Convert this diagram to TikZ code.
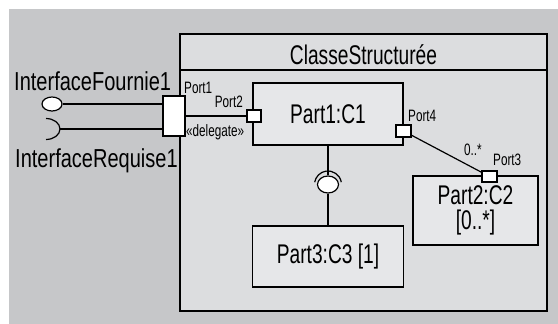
\documentclass[tikz,border=0pt]{standalone}
\usepackage{fontspec}
\setmainfont[FakeStretch=0.71]{Liberation Sans}
\newfontfamily\ifacefont[FakeStretch=0.77]{Liberation Sans}
\usepackage{tikz}
\usetikzlibrary{shapes.geometric}
\definecolor{bggray}{HTML}{C6C7C9}
\definecolor{boxbg}{HTML}{DCDDDF}
\definecolor{partbg}{HTML}{E6E7E9}
\tikzset{
  part/.style={draw=black,fill=partbg,line width=1.2pt,inner sep=2pt,
               font=\fontsize{27}{25}\selectfont,align=center},
  port/.style={draw=black,fill=white,line width=1.1pt,inner sep=0pt},
  ball/.style={draw=black,fill=white,ellipse,line width=1.2pt,inner sep=0pt},
  biglbl/.style={font=\fontsize{27}{29}\selectfont,inner sep=0pt},
  ifacelbl/.style={font=\ifacefont\fontsize{26}{28}\selectfont,inner sep=0pt},
  smalllbl/.style={font=\fontsize{16.5}{18}\selectfont,inner sep=0pt},
  wire/.style={line width=1.2pt},
}
\begin{document}
\begin{tikzpicture}[x=1pt,y=-1pt]
  \useasboundingbox (0,0) rectangle (558,324);
  \fill[white] (0,0) rectangle (558,324);
  \fill[bggray] (9,9) rectangle (558,324);
  % Structured class frame
  \node[draw=black,fill=boxbg,line width=1.3pt,minimum width=367pt,
        minimum height=277pt,inner sep=0pt](outer) at (363.5,172.5){};
  \draw[line width=1.2pt] (180,70) -- (547,70);
  \node[biglbl,anchor=base](title) at (363.5,64){ClasseStructurée};
  % Parts
  \node[part,minimum width=150pt,minimum height=62pt](part1) at (328,114){Part1:C1};
  \node[part,minimum width=125pt,minimum height=69pt](part2) at (475.5,210.5)
    {Part2:C2\\{}[0..*]};
  \node[part,minimum width=151pt,minimum height=61pt](part3) at (328,256.5){Part3:C3 [1]};
  % Ports
  \node[port,minimum width=22pt,minimum height=40pt](port1) at (174,116){};
  \node[port,minimum width=14pt,minimum height=12pt](port2) at (254,116){};
  \node[port,minimum width=15pt,minimum height=12pt](port4) at (403.5,131){};
  \node[port,minimum width=15pt,minimum height=11pt](port3) at (489.5,176.5){};
  \node[smalllbl,anchor=base west](lport1) at (184,93){Port1};
  \node[smalllbl,anchor=base east](lport2) at (243,107){Port2};
  \node[smalllbl,anchor=base west](ldeleg) at (186,136){«delegate»};
  \node[smalllbl,anchor=base west](lport4) at (408,121){Port4};
  \node[smalllbl,anchor=base west](lmult) at (464,155){0..*};
  \node[smalllbl,anchor=base west](lport3) at (493,165){Port3};
  % Left interfaces
  \node[ball,minimum width=20pt,minimum height=14pt](ball1) at (52,104){};
  \coordinate (sock1) at (46,129);
  \draw[wire] ([yshift=10.5pt]sock1) arc[start angle=90,end angle=-90,
    x radius=14pt,y radius=10.5pt];
  \draw[wire] (ball1.east) -- (ball1.east -| port1.west);
  \draw[wire] ([xshift=14pt]sock1) -- (sock1 -| port1.west);
  \node[ifacelbl,anchor=base west](lfournie) at (14,90){InterfaceFournie1};
  \node[ifacelbl,anchor=base west](lrequise) at (15,167){InterfaceRequise1};
  % Connectors
  \draw[wire] (port1.east |- port2) -- (port2.west);
  \draw[wire] (port4) -- (port3);
  % Assembly between Part1 and Part3
  \node[ball,minimum width=21pt,minimum height=17pt](ball2) at (328,184.5){};
  \draw[wire] (part1.south) -- (ball2.north);
  \draw[wire] (ball2.south) -- (part3.north);
  \draw[wire] ([shift={(10:13.5pt)}]ball2.center) arc[start angle=10,end angle=170,
    radius=13.5pt];
\end{tikzpicture}
\end{document}
